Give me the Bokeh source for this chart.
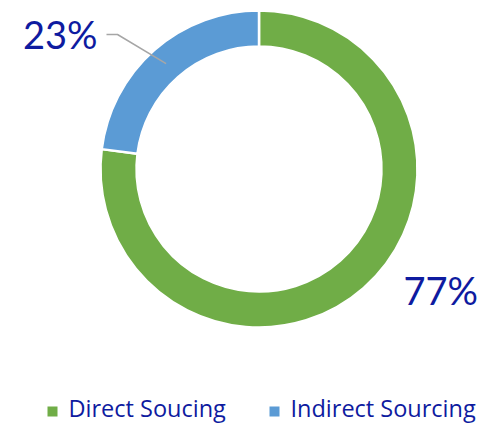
import math
from bokeh.plotting import figure
from bokeh.models import Range1d, ColumnDataSource
from bokeh.core.properties import value
from bokeh.embed import file_html
from bokeh.resources import INLINE

categories = ["Direct Soucing", "Indirect Sourcing"]
shares = [77, 23]
labels = ["77%", "23%"]
colors = ["#70AD47", "#5B9BD5"]

W, H = 497, 426
FONT = "Lato"
LFONT = "Open Sans"
TXT = "#0E1BA0"

def Y(img_y):
    return H - img_y

p = figure(width=W, height=H, output_backend="svg", toolbar_location=None,
           x_range=Range1d(0, W), y_range=Range1d(0, H),
           min_border=0, outline_line_color=None)
p.axis.visible = False
p.grid.visible = False
p.background_fill_color = "white"

cx, cy = 258.5, Y(168.5)
r_out, r_in = 158.5, 122.5

total = float(sum(shares))
starts, ends = [], []
a = math.pi / 2
d = shares[0] / total * 2 * math.pi
starts.append(a - d); ends.append(a)
i = shares[1] / total * 2 * math.pi
starts.append(a); ends.append(a + i)

src = ColumnDataSource(dict(x=[cx, cx], y=[cy, cy], s=starts, e=ends, c=colors))
p.annular_wedge(x="x", y="y", inner_radius=r_in, outer_radius=r_out,
                start_angle="s", end_angle="e", fill_color="c",
                line_color="white", line_width=2.5, source=src)

# leader line for Indirect label
mid = a + i / 2
rm = (r_in + r_out) / 2
ex, ey = cx + rm * math.cos(mid), cy + rm * math.sin(mid)
p.line([106, 117, ex], [Y(34), Y(34), ey], line_color="#A6A6A6", line_width=1.5)

PFS = 38
p.text(x=[97], y=[Y(49 - 0.4 * PFS)], text=[labels[1]], text_align="right",
       text_baseline="alphabetic", text_font=value(FONT), text_font_size=f"{PFS}px",
       text_color=TXT)
p.text(x=[403], y=[Y(305 - 0.4 * PFS)], text=[labels[0]], text_align="left",
       text_baseline="alphabetic", text_font=value(FONT), text_font_size=f"{PFS}px",
       text_color=TXT)

# legend
LFS = 23.5
lx = [52, 274]
tx = [68, 290]
p.scatter(x=lx, y=[Y(411)] * 2, marker="square", size=10, fill_color=colors,
          line_color=None)
p.text(x=tx, y=[Y(416.5 - 0.4 * LFS)] * 2, text=categories, text_align="left",
       text_baseline="alphabetic", text_font=value(LFONT), text_font_size=f"{LFS}px",
       text_color=TXT)

open("out.html", "w").write(file_html(p, INLINE))
